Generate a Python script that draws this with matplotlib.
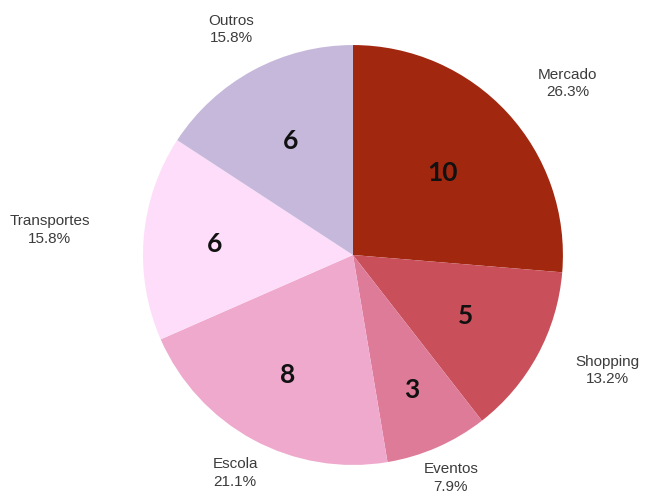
import numpy as np
import matplotlib
matplotlib.use("Agg")
import matplotlib.pyplot as plt

# trips by destination
categories = ["Mercado", "Shopping", "Eventos", "Escola", "Transportes", "Outros"]
counts = [10, 5, 3, 8, 6, 6]
colors = ["#A1270F", "#C94F5A", "#DE7B98", "#EEA9CD", "#FDDDF9", "#C6B8DB"]

# outer label placement: distance from centre (radius = 1) and angle nudge in degrees
label_dist = [1.31, 1.33, 1.16, 1.18, 1.45, 1.22]
label_nudge = [-4, 4, 0, 0, 0, 0]
# inner number placement
num_dist = [0.58, 0.61, 0.70, 0.65, 0.66, 0.62]

fig = plt.figure(figsize=(6.48, 5.0), dpi=100)
ax = fig.add_axes([0.2207, 0.07, 0.648, 0.84])

wedges, texts = ax.pie(counts, colors=colors, startangle=90, counterclock=False,
                       radius=1, wedgeprops=dict(linewidth=0))

total = sum(counts)
for w, cat, n, d, a, nd in zip(wedges, categories, counts, label_dist, label_nudge, num_dist):
    mid = np.deg2rad((w.theta1 + w.theta2) / 2)
    ax.text(nd * np.cos(mid), nd * np.sin(mid), str(n), ha="center", va="center",
            fontsize=19, fontweight="bold", family="Lato", color="#111111")
    lm = mid + np.deg2rad(a)
    ax.text(d * np.cos(lm), d * np.sin(lm), "%s\n%.1f%%" % (cat, 100 * n / total),
            ha="center", va="center", fontsize=11, family="Liberation Sans",
            color="#3c3c3c", linespacing=1.3)

ax.set_xlim(-1, 1)
ax.set_ylim(-1, 1)
ax.set_aspect("equal")
ax.axis("off")

fig.savefig("out.png", dpi=100)
